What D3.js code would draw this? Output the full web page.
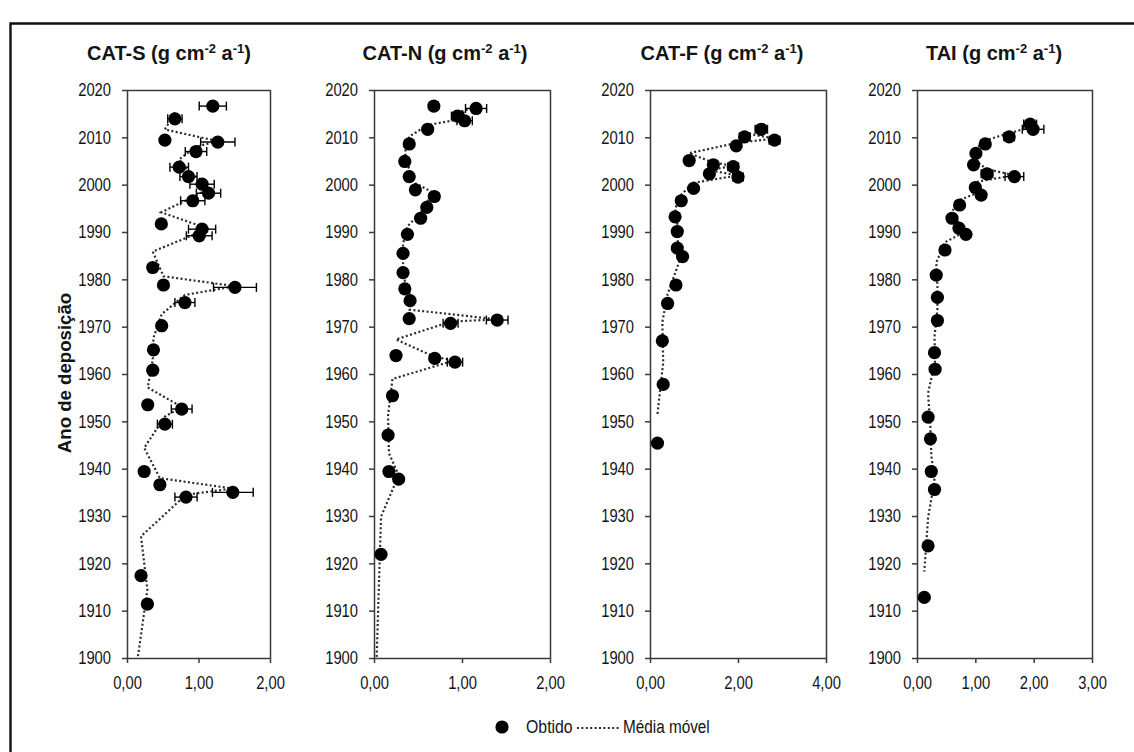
<!DOCTYPE html>
<html>
<head>
<meta charset="utf-8">
<script src="https://cdn.jsdelivr.net/npm/d3@7"></script>
<style>
  html, body { margin: 0; padding: 0; background: #fff; }
  svg { display: block; }
  text { font-family: 'Liberation Sans Narrow', 'Arial Narrow', 'Liberation Sans', sans-serif; fill: #141414; }
</style>
</head>
<body>
<svg id="chart" width="1134" height="752"></svg>
<script>
// Measured fluxes [year, value, error] — "Obtido"
const catSObtido = [
  [2016.6, 1.20, 0.19], [2013.9, 0.67, 0.10], [2009.4, 0.53, 0], [2009.0, 1.27, 0.24],
  [2007.0, 0.965, 0.15], [2003.7, 0.73, 0.13], [2001.7, 0.86, 0.12], [2000.1, 1.05, 0.17],
  [1998.2, 1.14, 0.17], [1996.6, 0.92, 0.17], [1991.7, 0.48, 0], [1990.6, 1.05, 0.19],
  [1989.2, 1.01, 0.18], [1982.5, 0.36, 0], [1978.8, 0.51, 0], [1978.3, 1.51, 0.30],
  [1975.1, 0.81, 0.14], [1970.2, 0.485, 0], [1965.1, 0.37, 0], [1960.8, 0.36, 0],
  [1953.5, 0.29, 0], [1952.6, 0.765, 0.145], [1949.4, 0.53, 0.105], [1939.4, 0.24, 0],
  [1936.6, 0.46, 0.05], [1935.0, 1.48, 0.285], [1934.0, 0.825, 0.155], [1917.4, 0.196, 0],
  [1911.4, 0.285, 0]
];
const catNObtido = [
  [2016.6, 0.68, 0.05], [2016.1, 1.16, 0.12], [2014.5, 0.95, 0.07], [2013.5, 1.03, 0.087],
  [2011.7, 0.61, 0], [2008.6, 0.40, 0], [2004.9, 0.35, 0], [2001.7, 0.40, 0],
  [1998.9, 0.47, 0], [1997.5, 0.685, 0.05], [1995.2, 0.60, 0], [1992.9, 0.53, 0],
  [1989.5, 0.38, 0], [1985.5, 0.33, 0], [1981.4, 0.33, 0], [1978.0, 0.35, 0],
  [1975.5, 0.41, 0], [1971.7, 0.40, 0], [1971.4, 1.40, 0.123], [1970.7, 0.87, 0.085],
  [1963.9, 0.25, 0], [1963.3, 0.69, 0.05], [1962.5, 0.92, 0.087], [1955.4, 0.21, 0],
  [1947.1, 0.16, 0], [1939.4, 0.17, 0], [1937.8, 0.28, 0], [1921.9, 0.08, 0]
];
const catFObtido = [
  [2011.7, 2.53, 0.14], [2010.1, 2.15, 0.12], [2009.4, 2.83, 0.12], [2008.2, 1.96, 0],
  [2005.1, 0.89, 0], [2004.2, 1.44, 0], [2003.8, 1.89, 0.12], [2002.3, 1.35, 0],
  [2001.6, 2.00, 0.12], [1999.2, 0.99, 0], [1996.6, 0.71, 0], [1993.2, 0.57, 0],
  [1990.1, 0.62, 0], [1986.6, 0.62, 0], [1984.8, 0.74, 0], [1978.8, 0.59, 0],
  [1974.9, 0.40, 0], [1967.0, 0.28, 0], [1957.8, 0.30, 0], [1945.4, 0.17, 0]
];
const taiObtido = [
  [2012.8, 1.94, 0.11], [2011.7, 1.99, 0.185], [2010.1, 1.58, 0.09], [2008.6, 1.17, 0],
  [2006.6, 1.01, 0], [2004.2, 0.97, 0], [2002.3, 1.20, 0.10], [2001.7, 1.67, 0.16],
  [1999.4, 1.00, 0], [1997.8, 1.10, 0], [1995.7, 0.73, 0], [1992.9, 0.60, 0],
  [1990.8, 0.72, 0], [1989.5, 0.84, 0], [1986.2, 0.48, 0], [1980.9, 0.33, 0],
  [1976.2, 0.35, 0], [1971.3, 0.35, 0], [1964.5, 0.30, 0], [1961.0, 0.31, 0],
  [1950.9, 0.19, 0], [1946.3, 0.23, 0], [1939.4, 0.245, 0], [1935.6, 0.30, 0],
  [1923.7, 0.19, 0], [1912.8, 0.125, 0]
];

// Moving-average vertices [year, value] — "Média móvel"
const catSMedia = [
  [2015.25, 0.67], [2011.65, 0.53], [2009.2, 1.27], [2008.0, 0.965], [2005.35, 0.73],
  [2002.7, 0.86], [2000.9, 1.05], [1999.15, 1.14], [1997.4, 0.92], [1994.15, 0.48],
  [1991.15, 1.05], [1989.9, 1.01], [1985.85, 0.36], [1980.65, 0.51], [1978.55, 1.51],
  [1976.7, 0.81], [1972.65, 0.485], [1967.65, 0.37], [1962.95, 0.36], [1957.15, 0.29],
  [1953.05, 0.765], [1951.0, 0.53], [1944.4, 0.24], [1938.0, 0.46], [1935.8, 1.48],
  [1934.5, 0.825], [1925.7, 0.196], [1914.4, 0.285], [1900.0, 0.15]
];
const catNMedia = [
  [2016.35, 1.16], [2015.3, 0.95], [2014.0, 1.03], [2012.6, 0.61], [2010.15, 0.40],
  [2006.75, 0.35], [2003.3, 0.40], [2000.3, 0.47], [1998.2, 0.685], [1996.35, 0.60],
  [1994.05, 0.53], [1991.2, 0.38], [1987.5, 0.33], [1983.45, 0.33], [1979.7, 0.35],
  [1976.75, 0.41], [1973.6, 0.40], [1971.55, 1.40], [1971.05, 0.87], [1967.3, 0.25],
  [1963.6, 0.69], [1962.9, 0.92], [1958.95, 0.21], [1951.25, 0.16], [1943.25, 0.17],
  [1938.6, 0.28], [1929.85, 0.08], [1900.0, 0.03]
];
const catFMedia = [
  [2010.9, 2.15], [2009.75, 2.83], [2008.8, 1.96], [2006.65, 0.89], [2004.65, 1.44],
  [2004.0, 1.89], [2003.05, 1.35], [2001.95, 2.00], [2000.4, 0.99], [1997.9, 0.71],
  [1994.9, 0.57], [1991.65, 0.62], [1988.35, 0.62], [1985.7, 0.74], [1981.8, 0.59],
  [1976.85, 0.40], [1970.95, 0.28], [1962.4, 0.30], [1951.6, 0.17]
];
const taiMedia = [
  [2012.25, 1.99], [2010.9, 1.58], [2009.35, 1.17], [2007.6, 1.01], [2005.4, 0.97],
  [2003.25, 1.20], [2002.0, 1.67], [2000.55, 1.00], [1998.6, 1.10], [1996.75, 0.73],
  [1994.3, 0.60], [1991.85, 0.72], [1990.15, 0.84], [1987.85, 0.48], [1983.55, 0.33],
  [1978.55, 0.35], [1973.75, 0.35], [1967.9, 0.30], [1962.75, 0.31], [1955.95, 0.19],
  [1948.6, 0.23], [1942.85, 0.245], [1937.5, 0.30], [1929.65, 0.19], [1918.25, 0.125]
];

// Axis ticks
const yearTicks = d3.range(1900, 2021, 10);
const catSTicks = [0, 1, 2];
const catNTicks = [0, 1, 2];
const catFTicks = [0, 2, 4];
const taiTicks = [0, 1, 2, 3];

const titles = ['CAT-S', 'CAT-N', 'CAT-F', 'TAI'];
const yAxisTitle = 'Ano de deposição';
const legendLabels = ['Obtido', 'Média móvel'];

const panels = [
  { name: titles[0], obs: catSObtido, ma: catSMedia, ticks: catSTicks, left: 127, right: 270, titleX: 169 },
  { name: titles[1], obs: catNObtido, ma: catNMedia, ticks: catNTicks, left: 374, right: 550, titleX: 445 },
  { name: titles[2], obs: catFObtido, ma: catFMedia, ticks: catFTicks, left: 650, right: 826, titleX: 722 },
  { name: titles[3], obs: taiObtido,  ma: taiMedia,  ticks: taiTicks,  left: 917, right: 1092, titleX: 994 }
];

const svg = d3.select('#chart');
const plotTop = 90, plotBottom = 658;
const y = d3.scaleLinear().domain([1900, 2020]).range([plotBottom, plotTop]);
const fmt = v => d3.format('.2f')(v).replace('.', ',');

// Squeeze text horizontally to a condensed face
function condense(sel, factor) {
  sel.each(function () {
    const w = this.getComputedTextLength();
    d3.select(this).attr('textLength', w * factor).attr('lengthAdjust', 'spacingAndGlyphs');
  });
}

// Outer frame (open to the right and bottom)
svg.append('path')
  .attr('d', 'M10.5,760 L10.5,23.5 L1140,23.5')
  .attr('fill', 'none').attr('stroke', '#111').attr('stroke-width', 2.4);

panels.forEach((p, i) => {
  const x = d3.scaleLinear().domain([0, p.ticks[p.ticks.length - 1]]).range([p.left, p.right]);
  const g = svg.append('g');

  g.append('clipPath').attr('id', 'clip' + i)
    .append('rect').attr('x', p.left).attr('y', plotTop)
    .attr('width', p.right - p.left).attr('height', plotBottom - plotTop);

  // Plot box (top and right edges)
  g.append('path')
    .attr('d', `M${p.left},${plotTop + 0.5} H${p.right + 0.5} V${plotBottom}`)
    .attr('fill', 'none').attr('stroke', '#3a3a3a').attr('stroke-width', 1.5);

  // Y axis
  const ya = g.append('g').attr('transform', `translate(${p.left},0)`)
    .call(d3.axisLeft(y).tickValues(yearTicks).tickFormat(d3.format('d'))
      .tickSize(5).tickPadding(11).tickSizeOuter(0));
  // X axis
  const xa = g.append('g').attr('transform', `translate(0,${plotBottom})`)
    .call(d3.axisBottom(x).tickValues(p.ticks).tickFormat(fmt)
      .tickSize(5).tickPadding(13).tickSizeOuter(0));
  [ya, xa].forEach(a => {
    a.attr('font-family', null);
    a.select('.domain').attr('stroke', '#3a3a3a').attr('stroke-width', 1.5);
    a.selectAll('.tick line').attr('stroke', '#3a3a3a').attr('stroke-width', 1.5);
    a.selectAll('.tick text').attr('font-size', 18).attr('fill', '#141414');
    condense(a.selectAll('.tick text'), 0.82);
  });

  // Moving-average line
  const line = d3.line().x(d => x(d[1])).y(d => y(d[0]));
  g.append('path').datum(p.ma)
    .attr('d', line)
    .attr('clip-path', `url(#clip${i})`)
    .attr('fill', 'none').attr('stroke', '#2b2b2b').attr('stroke-width', 2.2)
    .attr('stroke-dasharray', '2 2.4');

  // Error bars
  const eb = g.append('g').selectAll('g').data(p.obs.filter(d => d[2] > 0)).join('g');
  eb.append('line')
    .attr('x1', d => x(d[1] - d[2])).attr('x2', d => x(d[1] + d[2]))
    .attr('y1', d => y(d[0])).attr('y2', d => y(d[0]))
    .attr('stroke', '#000').attr('stroke-width', 1.4);
  [1, -1].forEach(s => {
    eb.append('line')
      .attr('x1', d => x(d[1] + s * d[2])).attr('x2', d => x(d[1] + s * d[2]))
      .attr('y1', d => y(d[0]) - 4.5).attr('y2', d => y(d[0]) + 4.5)
      .attr('stroke', '#000').attr('stroke-width', 1.4);
  });

  // Observed points
  g.append('g').selectAll('circle').data(p.obs).join('circle')
    .attr('cx', d => x(d[1])).attr('cy', d => y(d[0])).attr('r', 6.6)
    .attr('fill', '#000');

  // Title with superscript units
  const t = svg.append('text').attr('x', p.titleX).attr('y', 60)
    .attr('text-anchor', 'middle').attr('font-weight', 'bold').attr('font-size', 20);
  t.append('tspan').text(p.name + ' (g cm');
  t.append('tspan').attr('dy', -7).attr('font-size', 13).text('-2');
  t.append('tspan').attr('dy', 7).text(' a');
  t.append('tspan').attr('dy', -7).attr('font-size', 13).text('-1');
  t.append('tspan').attr('dy', 7).text(')');
});

// Y-axis title
const yt = svg.append('text')
  .attr('transform', 'translate(71,373) rotate(-90)')
  .attr('text-anchor', 'middle').attr('font-weight', 'bold').attr('font-size', 19)
  .text(yAxisTitle);
condense(yt, 0.98);

// Legend
const lg = svg.append('g');
lg.append('circle').attr('cx', 502).attr('cy', 727).attr('r', 6.6).attr('fill', '#000');
const l1 = lg.append('text').attr('x', 526).attr('y', 733).attr('font-size', 18).text(legendLabels[0]);
lg.append('line').attr('x1', 577).attr('x2', 619).attr('y1', 728).attr('y2', 728)
  .attr('stroke', '#2b2b2b').attr('stroke-width', 2).attr('stroke-dasharray', '2 2.4');
const l2 = lg.append('text').attr('x', 623).attr('y', 733).attr('font-size', 18).text(legendLabels[1]);
condense(l1, 0.88);
condense(l2, 0.85);
</script>
</body>
</html>
